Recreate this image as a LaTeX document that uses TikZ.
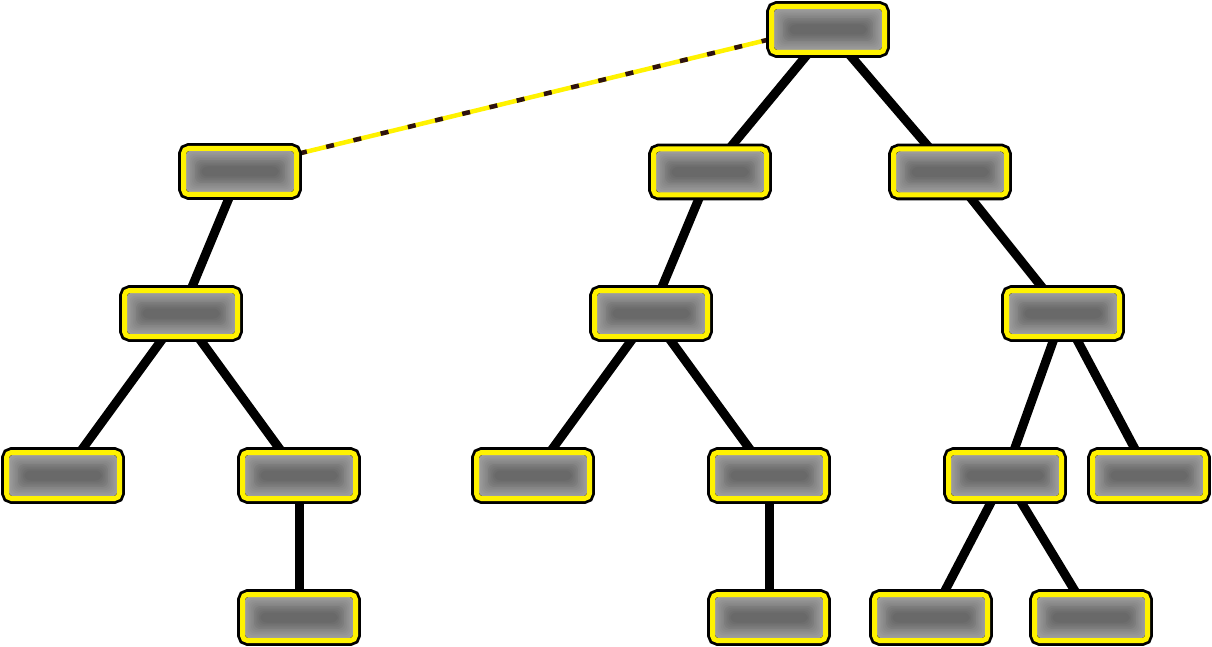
\documentclass[tikz,border=0pt]{standalone}
\usetikzlibrary{backgrounds}
\definecolor{dashbrown}{HTML}{2E1210}
\tikzset{
  tn/.style={rounded corners=5pt, minimum width=113pt, minimum height=46pt,
    inner sep=0pt, draw=yellow, line width=5pt,
    preaction={draw=black, line width=10.6pt},
    path picture={
      \foreach \i in {0,...,10}{
        \pgfmathtruncatemacro\p{38+2.2*\i}
        \fill[black!\p, rounded corners=6pt]
          ([xshift=\i*1.6pt+2pt, yshift=-\i*1.6pt-2pt]path picture bounding box.north west)
          rectangle
          ([xshift=-\i*1.6pt-2pt, yshift=\i*1.6pt+2pt]path picture bounding box.south east);
      }
    }},
  edge/.style={draw=black, line width=9pt},
  yline/.style={draw=yellow, line width=4.5pt},
  bline/.style={draw=dashbrown, line width=4.5pt, dash pattern=on 8pt off 20pt},
}
\begin{document}
\begin{tikzpicture}[x=1pt,y=-1pt]
\useasboundingbox (0,0) rectangle (1212,647);
\node[tn] (root) at (828,29.5) {};
\node[tn] (A) at (240,171.5) {};
\node[tn] (B) at (710,172) {};
\node[tn] (C) at (950,172) {};
\node[tn] (D) at (181,313.5) {};
\node[tn] (E) at (651,313.5) {};
\node[tn] (F) at (1063,313.5) {};
\node[tn] (G) at (63,475.5) {};
\node[tn] (H) at (299,475.5) {};
\node[tn] (I) at (533,475.5) {};
\node[tn] (J) at (769,475.5) {};
\node[tn] (K) at (1005,475.5) {};
\node[tn] (L) at (1149,475.5) {};
\node[tn] (M) at (299,617.5) {};
\node[tn] (N) at (769,617.5) {};
\node[tn] (O) at (931,617.5) {};
\node[tn] (P) at (1091,617.5) {};
\begin{scope}[on background layer]
  \foreach \a/\b in {root/B, root/C, A/D, D/G, D/H, H/M, B/E, E/I, E/J, J/N, C/F, F/K, F/L, K/O, K/P}
    \draw[edge] (\a.center) -- (\b.center);
  \coordinate (dA) at ([yshift=18pt]A.east);
  \coordinate (dR) at ([yshift=-10pt]root.west);
  \draw[yline] (dA) -- (dR);
  \draw[bline] (dA) -- (dR);
\end{scope}
\end{tikzpicture}
\end{document}
